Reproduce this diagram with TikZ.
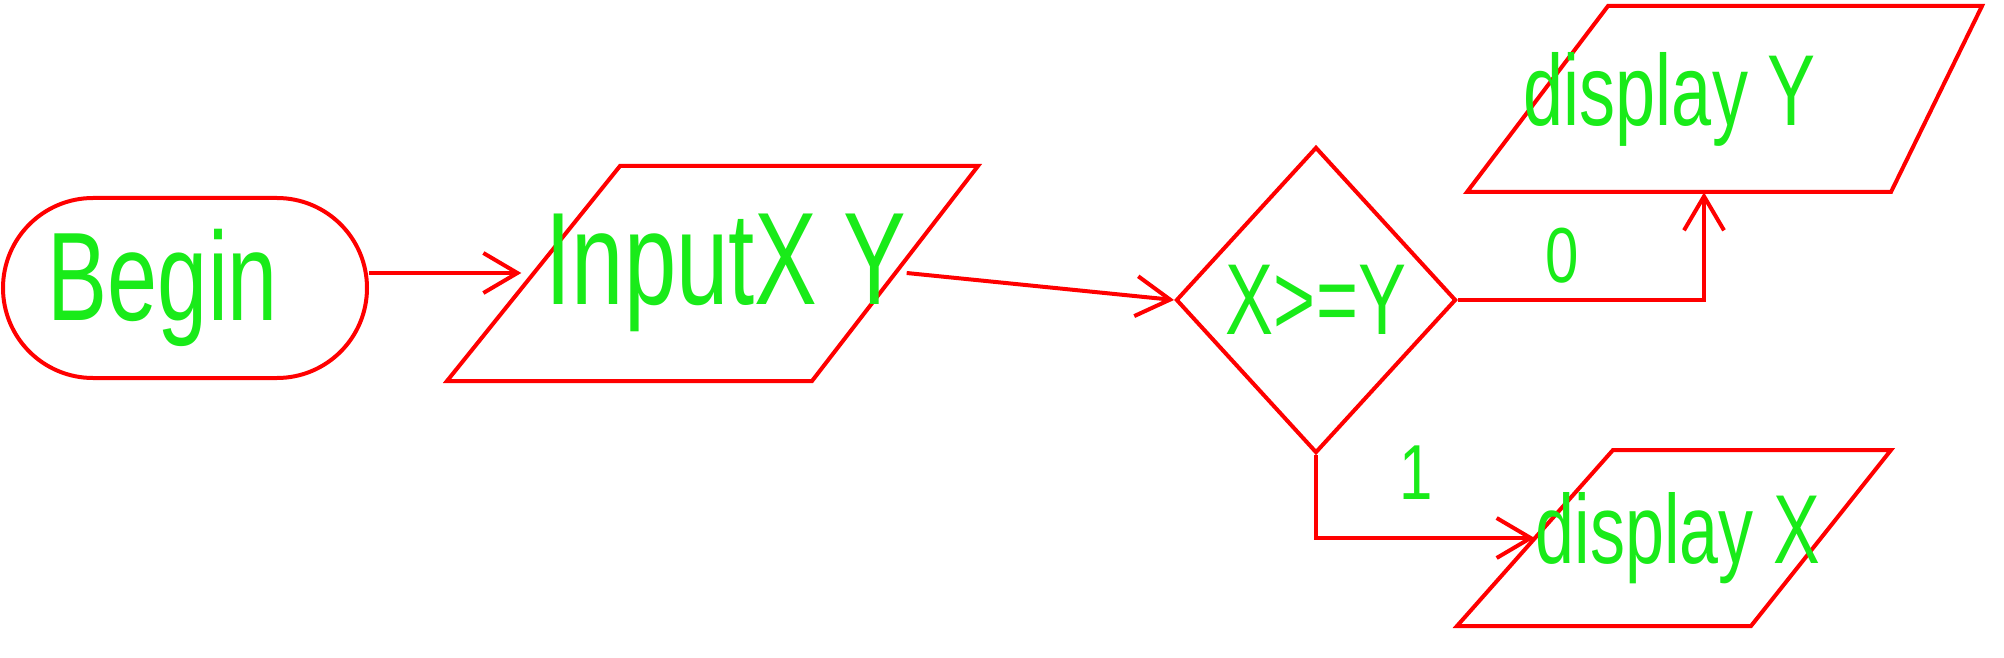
\documentclass[tikz,border=0pt]{standalone}
\usepackage{fontspec}
\setmainfont{Liberation Sans}
\usetikzlibrary{shapes.geometric,shapes.misc,arrows.meta}

\begin{document}
\begin{tikzpicture}[x=0.5pt,y=0.5pt,yscale=-1,
  ln/.style={draw={rgb, 255:red, 255; green, 0; blue, 0 }, line width=2pt},
  lbl/.style={text={rgb, 255:red, 25; green, 235; blue, 25 }, inner sep=0pt},
  para/.style={lbl, rectangle},
  arr/.style={ln, -{Straight Barb[length=17pt,width=20pt]}}]
%set diagram left start at 0, and has height of 658
\useasboundingbox (0,0) rectangle (2004,658);

% Text Node
\node (begin) [ln, lbl, rounded rectangle, minimum width=182pt, minimum height=90pt] at (185,288) {\fontsize{45}{50}\selectfont\scalebox{1}[1.4]{Begin}\hspace*{22pt}};

%Shape: Parallelogram
\draw [ln] (447,381) -- (812,381) -- (978,166) -- (620,166) -- cycle ;
% Text Node
\node (input) [para, minimum width=181pt, minimum height=107.5pt] at (714,273) {\hspace*{12pt}\fontsize{47}{52}\selectfont\scalebox{1}[1.4]{InputX Y}};

%Shape: Diamond
\node (cond) [ln, lbl, diamond, minimum width=140pt, minimum height=153pt] at (1316,300) {\fontsize{36}{42}\selectfont\scalebox{1}[1.4]{X>=Y}};

%Shape: Parallelogram
\draw [ln] (1467,192) -- (1891,192) -- (1982,6) -- (1608,6) -- cycle ;
% Text Node
\node (dispY) [para, minimum width=197.5pt, minimum height=93pt] at (1735,99) {\fontsize{36}{42}\selectfont\scalebox{1}[1.4]{display Y}\hspace*{65pt}};

%Shape: Parallelogram
\draw [ln] (1457,626) -- (1751,626) -- (1891,450) -- (1613,450) -- cycle ;
% Text Node
\node (dispX) [para, minimum width=143pt, minimum height=88pt] at (1678,538) {\fontsize{35}{40}\selectfont\scalebox{1}[1.4]{display X}};

%Straight Lines
\draw [arr] (begin.east |- input.west) -- (input.west) ;
\draw [arr] (input.east) -- (cond.west) ;
\draw [arr] (cond.east) -| ([xshift=-15.5pt]dispY.south) ;
\draw [arr] (cond.south) |- (dispX.west) ;

% Text Node
\node (zero) [lbl] at (1562,256) {\fontsize{30}{34}\selectfont\scalebox{1}[1.3]{0}};
% Text Node
\node (one) [lbl] at (1416,473) {\fontsize{30}{34}\selectfont\scalebox{1}[1.3]{1}};

\end{tikzpicture}
\end{document}
